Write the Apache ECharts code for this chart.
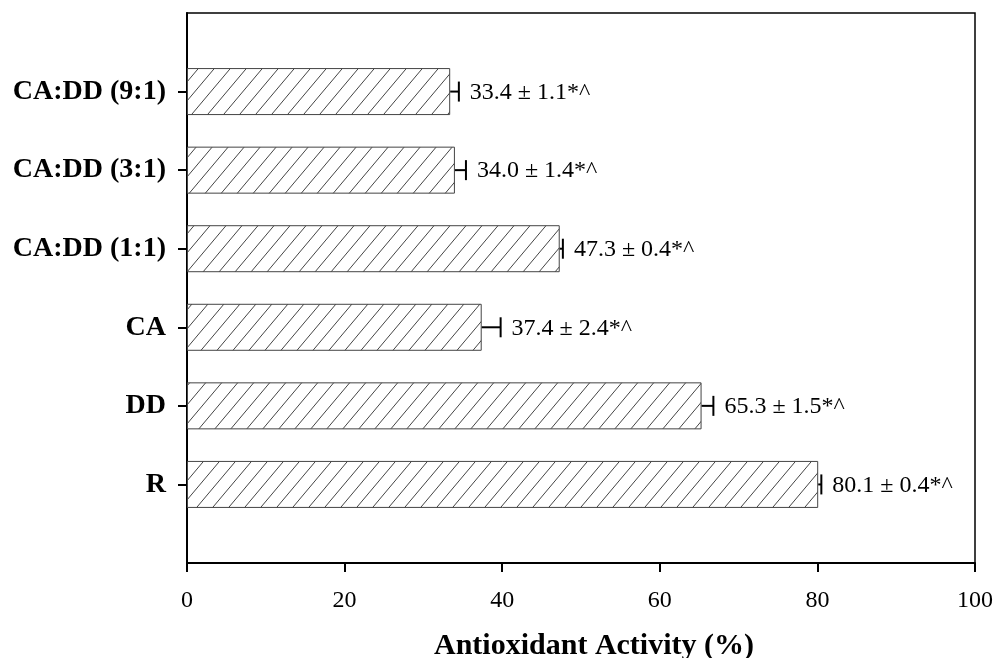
<!DOCTYPE html>
<html>
<head>
<meta charset="UTF-8">
<script src="https://cdn.jsdelivr.net/npm/echarts@6/dist/echarts.min.js"></script>
</head>
<body style="margin:0">
<div id="container" style="width:994px;height:658px"></div>
<script>
// values, top to bottom
var categories = ['CA:DD (9:1)', 'CA:DD (3:1)', 'CA:DD (1:1)', 'CA', 'DD', 'R'];
var activity = [33.4, 34.0, 47.3, 37.4, 65.3, 80.1];
var errors = [1.1, 1.4, 0.4, 2.4, 1.5, 0.4];
var xTicks = [0, 20, 40, 60, 80, 100];

var serif = '"Liberation Serif", "Times New Roman", serif';

// diagonal hatch tile for the bars
function hatch() {
    var w = 16, h = 19;
    var c = document.createElement('canvas');
    c.width = w; c.height = h;
    var ctx = c.getContext('2d');
    ctx.fillStyle = '#fff';
    ctx.fillRect(0, 0, w, h);
    ctx.strokeStyle = '#444';
    ctx.lineWidth = 1;
    [-w, 0, w].forEach(function (o) {
        ctx.beginPath();
        ctx.moveTo(o, h);
        ctx.lineTo(o + w, 0);
        ctx.stroke();
    });
    return c;
}

// empty slot above and below so bars sit on 1..6 of a 0..7 range
var yData = [''].concat(categories, ['']);
var barData = ['-'].concat(activity, ['-']);
var errData = activity.map(function (v, i) { return [v, i + 1, errors[i]]; });

var chart = echarts.init(document.getElementById('container'));
var option = {
    animation: false,
    grid: {
        left: 187, right: 19, top: 13, bottom: 95,
        outerBoundsMode: 'none', containLabel: false,
        show: true, borderColor: '#000', borderWidth: 1.5
    },
    xAxis: {
        type: 'value',
        min: xTicks[0],
        max: xTicks[xTicks.length - 1],
        interval: xTicks[1] - xTicks[0],
        splitLine: {show: false},
        axisLine: {show: true, lineStyle: {color: '#000', width: 2}},
        axisTick: {show: true, length: 9, lineStyle: {color: '#000', width: 2}},
        axisLabel: {color: '#000', fontSize: 24, fontFamily: serif, margin: 26},
        name: 'Antioxidant Activity (%)',
        nameLocation: 'middle',
        nameGap: 68,
        nameTextStyle: {color: '#000', fontSize: 30, fontWeight: 'bold', fontFamily: serif, padding: [0, 0, 0, 26]}
    },
    yAxis: {
        type: 'category',
        data: yData,
        inverse: true,
        boundaryGap: false,
        axisLine: {lineStyle: {color: '#000', width: 2}},
        axisTick: {
            length: 9,
            lineStyle: {color: '#000', width: 2},
            interval: function (i, v) { return v !== ''; }
        },
        axisLabel: {color: '#000', fontSize: 28, fontWeight: 'bold', fontFamily: serif, margin: 21, interval: 0}
    },
    series: [{
        type: 'bar',
        data: barData,
        barWidth: 47,
        itemStyle: {
            color: {image: hatch(), repeat: 'repeat'},
            borderColor: '#444',
            borderWidth: 1
        }
    }, {
        type: 'custom',
        data: errData,
        encode: {x: 0, y: 1},
        clip: false,
        z: 5,
        renderItem: function (params, api) {
            var v = api.value(0), idx = api.value(1), e = api.value(2);
            var p0 = api.coord([v, idx]);
            var p1 = api.coord([v + e, idx]);
            var cap = 10;
            var st = {stroke: '#000', lineWidth: 2};
            return {
                type: 'group',
                children: [
                    {type: 'line', shape: {x1: p0[0], y1: p0[1], x2: p1[0], y2: p1[1]}, style: st},
                    {type: 'line', shape: {x1: p1[0], y1: p1[1] - cap, x2: p1[0], y2: p1[1] + cap}, style: st},
                    {type: 'text', x: p1[0] + 11, y: p1[1] + 1, style: {
                        text: v.toFixed(1) + ' ± ' + e.toFixed(1) + '*^',
                        fontSize: 24, fontFamily: serif, fill: '#000',
                        align: 'left', verticalAlign: 'middle'
                    }}
                ]
            };
        }
    }]
};
chart.setOption(option);
</script>
</body>
</html>
